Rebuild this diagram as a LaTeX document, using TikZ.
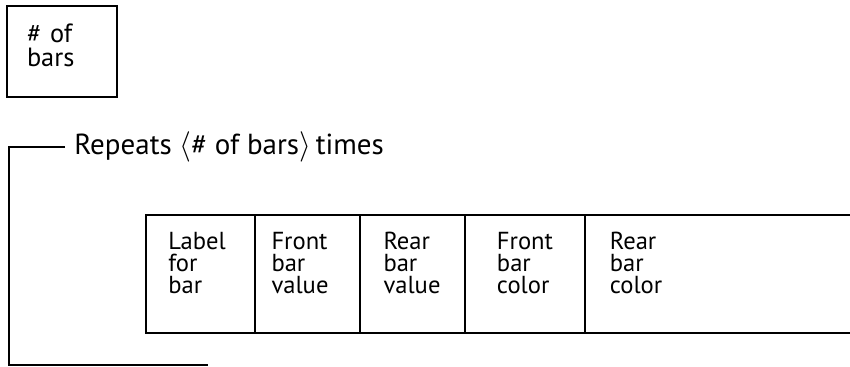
\documentclass[tikz,border=0pt]{standalone}
\usepackage{fontspec}
\setmainfont{PT Sans}
\usetikzlibrary{positioning}

\tikzset{
  field/.style={align=left, font=\fontsize{14}{12.5}\selectfont, inner sep=0pt},
  frame/.style={line width=1.2pt},
}

\begin{document}
\begin{tikzpicture}
    \useasboundingbox (0,0) rectangle (17,-7.32);

    % count box
    \node[draw, line width=1.4pt, field, font=\fontsize{15}{14}\selectfont, text width=1.4cm, inner xsep=0.4cm, minimum height=1.82cm, text depth=0.75cm] (nbars) at (1.24,-1.03) {\# of\\bars};

    % repeat bracket
    \coordinate (rtop) at (1.3,-2.94);
    \coordinate (rbot) at (4.16,-7.3);
    \draw[frame] (rtop) -| (0.18,-7.3) -- (rbot);
    \node[field, font=\fontsize{16.5}{18}\selectfont, right=0.18cm of rtop] (repeat) {Repeats $\bigl\langle$\# of bars$\bigr\rangle$\,times};

    % record fields
    \draw[frame] (17.1,-4.3) -- (2.92,-4.3) -- (2.92,-6.66) -- (17.1,-6.66);
    \foreach \x in {5.1,7.2,9.3,11.7}
        \draw[frame] (\x,-4.3) -- (\x,-6.66);

    \node[field] (lbl) at (3.94,-5.26) {Label\\for\\bar};
    \node[field] (frontval) at (6.0,-5.26) {Front\\bar\\value};
    \node[field] (rearval) at (8.24,-5.26) {Rear\\bar\\value};
    \node[field] (frontcol) at (10.5,-5.26) {Front\\bar\\color};
    \node[field] (rearcol) at (12.72,-5.26) {Rear\\bar\\color};
\end{tikzpicture}
\end{document}
